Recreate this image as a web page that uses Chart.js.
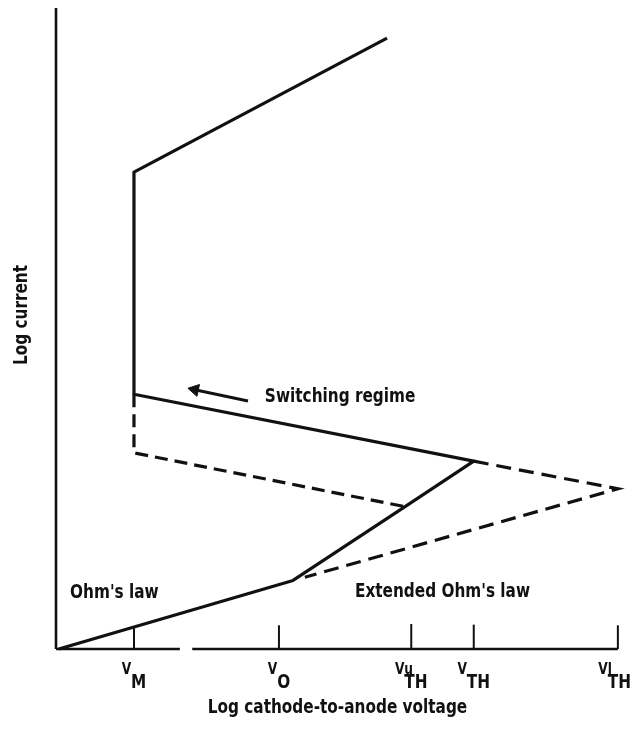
<!DOCTYPE html>
<html><head><meta charset="utf-8">
<script src="https://cdn.jsdelivr.net/npm/chart.js@4/dist/chart.umd.min.js"></script>
<style>html,body{margin:0;padding:0;background:#fff}#wrap{width:631px;height:731px;position:relative}</style>
</head><body><div id="wrap"><canvas id="c" width="631" height="731"></canvas></div>
<script>
// ---- Data (x: log voltage, y: log current, arbitrary units 0..100) ----
const xAxisTitle = "Log cathode-to-anode voltage";
const yAxisTitle = "Log current";

const tickValues  = [13.85, 39.6, 63.1, 74.2, 99.8];
const tickMain    = ["V", "V", "V", "V", "V"];
const tickSub     = ["M", "O", "TH", "TH", "TH"];
const tickSup     = ["", "", "u", "", "l"];
const tickHeights = [3.26, 3.7, 3.9, 3.8, 3.7];

// solid characteristic: Ohm's law -> threshold -> switching -> vertical -> high current
const solidX = [0.5, 42.1, 62.0, 74.2, 13.85, 13.85, 58.8];
const solidY = [0,   10.7, 22.2, 29.3, 39.75, 74.4, 95.3];

// dashed lower switching branch
const dashInnerX = [13.85, 13.85, 62.0];
const dashInnerY = [39.75, 30.6, 22.2];

// dashed outer branch (extended Ohm's law to V^l_TH)
const dashOuterX = [74.2, 99.8, 44.2];
const dashOuterY = [29.3, 25.0, 11.2];

// axes
const yAxisX = [0, 0];
const yAxisY = [0, 100];
const xAxisLeftX = [0, 22.0];
const xAxisRightX = [24.2, 99.8];

// arrow for "Switching regime"
const arrowX = [34.1, 24.65];
const arrowY = [38.7, 40.45];

const annoTexts = ["Ohm's law", "Extended Ohm's law", "Switching regime"];
const annoX = [2.5, 53.1, 37.1];
const annoY = [8.7, 8.85, 39.3];

// ---- Build ----
const pts = (xs, ys) => xs.map((x, i) => ({x, y: ys[i]}));
const INK = '#111';
const FONT = '"DejaVu Sans Condensed", "DejaVu Sans", sans-serif';
const SQ = 0.85; // horizontal squeeze for narrow lettering

const base = {showLine: true, pointRadius: 0, borderColor: INK, backgroundColor: INK, clip: false, fill: false, tension: 0};

const datasets = [
  Object.assign({}, base, {data: pts(yAxisX, yAxisY), borderWidth: 2.6}),
  Object.assign({}, base, {data: pts(xAxisLeftX, [0, 0]), borderWidth: 2.6}),
  Object.assign({}, base, {data: pts(xAxisRightX, [0, 0]), borderWidth: 2.6}),
  ...tickValues.map((v, i) => Object.assign({}, base, {data: [{x: v, y: 0}, {x: v, y: tickHeights[i]}], borderWidth: 2})),
  Object.assign({}, base, {data: pts(solidX, solidY), borderWidth: 3.2, borderJoinStyle: 'round'}),
  Object.assign({}, base, {data: pts(dashInnerX, dashInnerY), borderWidth: 3.2, borderDash: [13, 7]}),
  Object.assign({}, base, {data: pts(dashOuterX, dashOuterY), borderWidth: 3.2, borderDash: [15, 8]}),
  Object.assign({}, base, {data: pts(arrowX, arrowY), borderWidth: 3,
    pointRadius: [0, 7], pointStyle: 'triangle', pointRotation: [0, -78],
    pointBackgroundColor: INK, pointBorderColor: INK, pointBorderWidth: 1})
];

function sqText(ctx, t, x, y) {
  ctx.save();
  ctx.translate(x, y);
  ctx.scale(SQ, 1);
  ctx.fillText(t, 0, 0);
  ctx.restore();
}

const textPlugin = {
  id: 'texts',
  afterDatasetsDraw(chart) {
    const ctx = chart.ctx, xs = chart.scales.x, ys = chart.scales.y, ca = chart.chartArea;
    ctx.save();
    ctx.fillStyle = INK;
    // annotations
    ctx.font = 'bold 20px ' + FONT;
    ctx.textBaseline = 'middle';
    ctx.textAlign = 'left';
    annoTexts.forEach((t, i) => sqText(ctx, t, xs.getPixelForValue(annoX[i]), ys.getPixelForValue(annoY[i])));
    // tick labels with sub/superscripts
    const small = 'bold 16px ' + FONT, big = 'bold 20px ' + FONT;
    const baseY = ys.getPixelForValue(0);
    tickValues.forEach((v, i) => {
      const px = xs.getPixelForValue(v);
      ctx.font = small; const wV = ctx.measureText(tickMain[i]).width * SQ;
      const wSup = ctx.measureText(tickSup[i]).width * SQ;
      ctx.font = big; const wSub = ctx.measureText(tickSub[i]).width * SQ;
      const w = wV + Math.max(wSub, wSup);
      const x0 = Math.min(px - w / 2, ca.right + 12 - w);
      ctx.textBaseline = 'alphabetic';
      ctx.textAlign = 'left';
      ctx.font = small;
      sqText(ctx, tickMain[i], x0, baseY + 25);
      if (tickSup[i]) sqText(ctx, tickSup[i], x0 + wV, baseY + 25);
      ctx.font = big;
      sqText(ctx, tickSub[i], x0 + wV, baseY + 39);
    });
    // axis titles
    ctx.font = 'bold 20px ' + FONT;
    ctx.textAlign = 'center';
    ctx.textBaseline = 'middle';
    sqText(ctx, xAxisTitle, (ca.left + ca.right) / 2, baseY + 59);
    ctx.translate(22, 315);
    ctx.rotate(-Math.PI / 2);
    sqText(ctx, yAxisTitle, 0, 0);
    ctx.restore();
  }
};

new Chart(document.getElementById('c'), {
  type: 'scatter',
  data: {datasets},
  options: {
    responsive: false,
    animation: false,
    devicePixelRatio: 1,
    layout: {padding: {left: 56, right: 12, top: 5, bottom: 82}},
    scales: {
      x: {type: 'linear', min: 0, max: 100, display: false},
      y: {type: 'linear', min: 0, max: 100, display: false}
    },
    plugins: {legend: {display: false}, tooltip: {enabled: false}},
    events: []
  },
  plugins: [textPlugin]
});
</script>
</body></html>
